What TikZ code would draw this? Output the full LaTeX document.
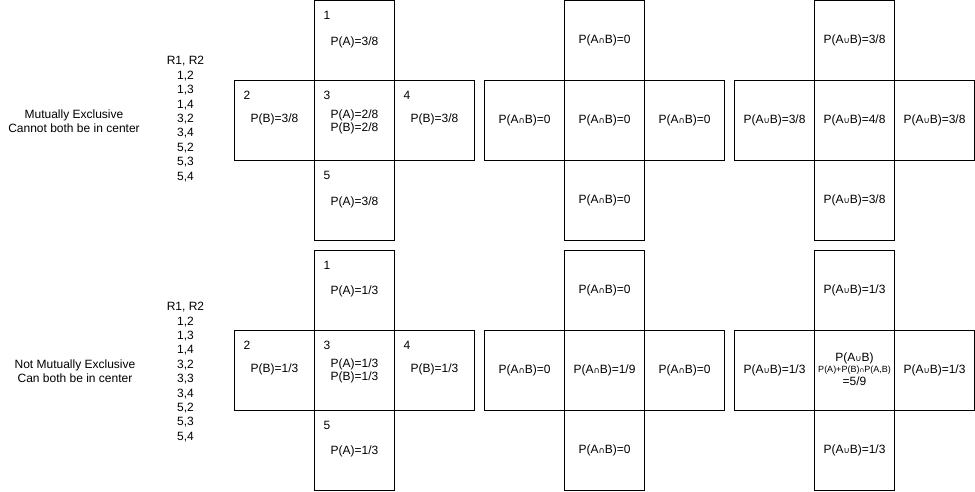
\documentclass[tikz,border=0pt]{standalone}
\usepackage{fontspec}
\setmainfont{Liberation Sans}
\newfontfamily\djv{DejaVu Sans}
\newcommand\fs{\fontsize{12}{14.4}\selectfont}
\newcommand\smallfs{\fontsize{9}{10}\selectfont}
\newcommand\capsym{{\djv\fontsize{8.5}{8.5}\selectfont ∩}}
\newcommand\cupsym{{\djv\fontsize{8.5}{8.5}\selectfont ∪}}
\newcommand\capsmall{{\djv\fontsize{6.5}{6.5}\selectfont ∩}}
\newcommand\mkcross[3]{%
  \node[cell] (#1L) at (#2+40,#3+120) {};
  \node[cell] (#1T) at (#2+120,#3+40) {};
  \node[cell] (#1M) at (#2+120,#3+120) {};
  \node[cell] (#1R) at (#2+200,#3+120) {};
  \node[cell] (#1B) at (#2+120,#3+200) {};
}
\begin{document}
\begin{tikzpicture}[x=1pt,y=-1pt,
  cell/.style={draw, line width=1pt, minimum width=80pt, minimum height=80pt, inner sep=0pt, outer sep=0pt},
  txt/.style={inner sep=0pt, font=\fs, align=center},
  num/.style={inner sep=0pt, anchor=base west, font=\fs},
  small/.style={inner sep=0pt, font=\smallfs}]
\useasboundingbox (0,0) rectangle (975,492);
% crosses
\mkcross{a}{234.5}{0.5}
\mkcross{b}{484.5}{0.5}
\mkcross{c}{734.5}{0.5}
\mkcross{d}{234.5}{250.5}
\mkcross{e}{484.5}{250.5}
\mkcross{f}{734.5}{250.5}
% left labels
\node[txt, align=center] (me) at (74,121) {\fontsize{12}{14}\selectfont Mutually Exclusive\\Cannot both be in center};
\node[txt, align=center] (nme) at (75,371) {\fontsize{12}{13.5}\selectfont Not Mutually Exclusive\\Can both be in center};
\node[txt, align=center] (l1) at (185.5,119) {R1, R2\\1,2\\1,3\\1,4\\3,2\\3,4\\5,2\\5,3\\5,4};
\node[txt, align=center] (l2) at (185.5,372) {R1, R2\\1,2\\1,3\\1,4\\3,2\\3,3\\3,4\\5,2\\5,3\\5,4};
% cross a numbers and text
\node[num] (an1) at ([shift={(9,19)}]aT.north west) {1};
\node[num] (an2) at ([shift={(9,19)}]aL.north west) {2};
\node[num] (an3) at ([shift={(9,19)}]aM.north west) {3};
\node[num] (an4) at ([shift={(9,19)}]aR.north west) {4};
\node[num] (an5) at ([shift={(9,19)}]aB.north west) {5};
\node[txt] (at1) at ([shift={(0,2)}]aT.center) {P(A)=3/8};
\node[txt] (at2) at ([shift={(0,-1)}]aL.center) {P(B)=3/8};
\node[txt] (at3a) at ([shift={(0,-5.5)}]aM.center) {P(A)=2/8};
\node[txt] (at3b) at ([shift={(0,7.5)}]aM.center) {P(B)=2/8};
\node[txt] (at4) at ([shift={(0,-1)}]aR.center) {P(B)=3/8};
\node[txt] (at5) at ([shift={(0,2)}]aB.center) {P(A)=3/8};
% cross b
\node[txt] (bt1) at (bT.center) {P(A\capsym B)=0};
\node[txt] (bt2) at (bL.center) {P(A\capsym B)=0};
\node[txt] (bt3) at (bM.center) {P(A\capsym B)=0};
\node[txt] (bt4) at (bR.center) {P(A\capsym B)=0};
\node[txt] (bt5) at (bB.center) {P(A\capsym B)=0};
% cross c
\node[txt] (ct1) at (cT.center) {P(A\cupsym B)=3/8};
\node[txt] (ct2) at (cL.center) {P(A\cupsym B)=3/8};
\node[txt] (ct3) at (cM.center) {P(A\cupsym B)=4/8};
\node[txt] (ct4) at (cR.center) {P(A\cupsym B)=3/8};
\node[txt] (ct5) at (cB.center) {P(A\cupsym B)=3/8};
% cross d
\node[num] (dn1) at ([shift={(9,19)}]dT.north west) {1};
\node[num] (dn2) at ([shift={(9,19)}]dL.north west) {2};
\node[num] (dn3) at ([shift={(9,19)}]dM.north west) {3};
\node[num] (dn4) at ([shift={(9,19)}]dR.north west) {4};
\node[num] (dn5) at ([shift={(9,19)}]dB.north west) {5};
\node[txt] (dt1) at ([shift={(0,1)}]dT.center) {P(A)=1/3};
\node[txt] (dt2) at ([shift={(0,-1)}]dL.center) {P(B)=1/3};
\node[txt] (dt3a) at ([shift={(0,-6.5)}]dM.center) {P(A)=1/3};
\node[txt] (dt3b) at ([shift={(0,6.5)}]dM.center) {P(B)=1/3};
\node[txt] (dt4) at ([shift={(0,-1)}]dR.center) {P(B)=1/3};
\node[txt] (dt5) at ([shift={(0,1)}]dB.center) {P(A)=1/3};
% cross e
\node[txt] (et1) at (eT.center) {P(A\capsym B)=0};
\node[txt] (et2) at (eL.center) {P(A\capsym B)=0};
\node[txt] (et3) at (eM.center) {P(A\capsym B)=1/9};
\node[txt] (et4) at (eR.center) {P(A\capsym B)=0};
\node[txt] (et5) at (eB.center) {P(A\capsym B)=0};
% cross f
\node[txt] (ft1) at (fT.center) {P(A\cupsym B)=1/3};
\node[txt] (ft2) at (fL.center) {P(A\cupsym B)=1/3};
\node[txt] (ft3a) at ([shift={(0,-12.5)}]fM.center) {P(A\cupsym B)};
\node[small] (ft3b) at ([shift={(0,-0.5)}]fM.center) {P(A)+P(B)\capsmall P(A,B)};
\node[txt] (ft3c) at ([shift={(0,11)}]fM.center) {=5/9};
\node[txt] (ft4) at (fR.center) {P(A\cupsym B)=1/3};
\node[txt] (ft5) at (fB.center) {P(A\cupsym B)=1/3};
\end{tikzpicture}
\end{document}
